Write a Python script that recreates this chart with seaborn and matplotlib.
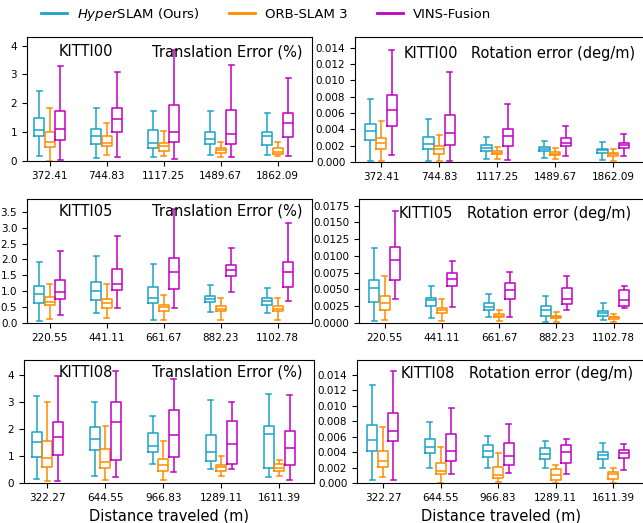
import pandas as pd
import matplotlib.pyplot as plt
import seaborn as sns
from matplotlib.lines import Line2D
from matplotlib.ticker import MultipleLocator

methods = ["HyperSLAM", "ORB-SLAM 3", "VINS-Fusion"]
legend_labels = [r"$\it{Hyper}$SLAM (Ours)", "ORB-SLAM 3", "VINS-Fusion"]
colors = ["#1aa3c6", "#ff8c00", "#c000c0"]

dist_00 = ["372.41", "744.83", "1117.25", "1489.67", "1862.09"]
dist_05 = ["220.55", "441.11", "661.67", "882.23", "1102.78"]
dist_08 = ["322.27", "644.55", "966.83", "1289.11", "1611.39"]

# each row: whisker low, q1, median, q3, whisker high
k00_trans_hyper = [[0.19, 0.85, 1.08, 1.48, 2.43], [0.09, 0.59, 0.85, 1.10, 1.83], [0.15, 0.44, 0.61, 1.06, 1.74],
                   [0.21, 0.58, 0.77, 1.02, 1.72], [0.21, 0.56, 0.87, 1.02, 1.68]]
k00_trans_orb = [[0.0, 0.50, 0.67, 1.02, 1.83], [0.21, 0.53, 0.64, 0.85, 1.33], [0.19, 0.36, 0.52, 0.61, 1.03],
                 [0.14, 0.27, 0.38, 0.44, 0.65], [0.17, 0.24, 0.32, 0.44, 0.67]]
k00_trans_vins = [[0.02, 0.73, 1.10, 1.75, 3.30], [0.13, 1.02, 1.45, 1.83, 3.07], [0.06, 0.65, 1.00, 1.95, 3.86],
                  [0.14, 0.58, 0.93, 1.77, 3.32], [0.19, 0.82, 1.31, 1.66, 2.88]]

k00_rot_hyper = [[0.0001, 0.00265, 0.00376, 0.00461, 0.00776], [0.0001, 0.00155, 0.00216, 0.00306, 0.0053],
                 [0.0004, 0.00135, 0.00176, 0.00204, 0.00306], [0.0005, 0.00135, 0.00163, 0.00184, 0.00257],
                 [0.0003, 0.00114, 0.00151, 0.00163, 0.00245]]
k00_rot_orb = [[0.0001, 0.00163, 0.00233, 0.00298, 0.0050], [0.0001, 0.0010, 0.00155, 0.00192, 0.00327],
               [0.0004, 0.00094, 0.00114, 0.00135, 0.00184], [0.0004, 0.00082, 0.00102, 0.00122, 0.00176],
               [0.0001, 0.00073, 0.00094, 0.00114, 0.00163]]
k00_rot_vins = [[0.0008, 0.0044, 0.0064, 0.00824, 0.01367], [0.0001, 0.00212, 0.0036, 0.00571, 0.0110],
                [0.0002, 0.00192, 0.00318, 0.0040, 0.00706], [0.00073, 0.00196, 0.00233, 0.00298, 0.0044],
                [0.0007, 0.00171, 0.00204, 0.00237, 0.00347]]

k05_trans_hyper = [[0.05, 0.63, 0.90, 1.16, 1.93], [0.30, 0.72, 1.00, 1.30, 2.12], [0.08, 0.63, 0.80, 1.12, 1.86],
                   [0.35, 0.67, 0.74, 0.86, 1.19], [0.30, 0.58, 0.70, 0.79, 1.11]]
k05_trans_orb = [[0.14, 0.56, 0.66, 0.82, 1.22], [0.16, 0.48, 0.64, 0.77, 1.22], [0.11, 0.37, 0.49, 0.56, 0.88],
                 [0.08, 0.38, 0.45, 0.53, 0.80], [0.11, 0.38, 0.45, 0.53, 0.79]]
k05_trans_vins = [[0.26, 0.75, 0.96, 1.35, 2.27], [0.48, 1.04, 1.22, 1.70, 2.73], [0.48, 1.06, 1.60, 2.04, 3.57],
                  [0.96, 1.49, 1.67, 1.83, 2.36], [0.70, 1.14, 1.60, 1.93, 3.15]]

k05_rot_hyper = [[0.00035, 0.00311, 0.00521, 0.00647, 0.01123], [0.00075, 0.00261, 0.00336, 0.00371, 0.00547],
                 [0.00095, 0.00201, 0.00246, 0.00301, 0.00436], [0.0002, 0.0011, 0.00201, 0.00251, 0.00401],
                 [0.00045, 0.0010, 0.00145, 0.00186, 0.00301]]
k05_rot_orb = [[0.00045, 0.00201, 0.00301, 0.00396, 0.00697], [0.00035, 0.00145, 0.00196, 0.00221, 0.00361],
               [0.00035, 0.00085, 0.0011, 0.00135, 0.00196], [0.0001, 0.00075, 0.00095, 0.0011, 0.0016],
               [0.0002, 0.0006, 0.00085, 0.00095, 0.00135]]
k05_rot_vins = [[0.00361, 0.00647, 0.00938, 0.01138, 0.01675], [0.00246, 0.00552, 0.00662, 0.00752, 0.00928],
                [0.00095, 0.00361, 0.00486, 0.00597, 0.00762], [0.00201, 0.00286, 0.00351, 0.00521, 0.00702],
                [0.00221, 0.00261, 0.00336, 0.00496, 0.00552]]

k08_trans_hyper = [[0.15, 0.98, 1.50, 1.87, 3.22], [0.27, 1.21, 1.62, 2.06, 2.98], [0.71, 1.13, 1.38, 1.85, 2.46],
                   [0.50, 0.81, 1.13, 1.77, 3.06], [0.23, 0.54, 1.83, 2.12, 3.31]]
k08_trans_orb = [[0.09, 0.59, 0.92, 1.54, 2.98], [0.10, 0.55, 0.78, 1.27, 2.12], [0.12, 0.43, 0.65, 0.90, 1.54],
                 [0.27, 0.46, 0.58, 0.68, 1.01], [0.27, 0.46, 0.55, 0.69, 0.84]]
k08_trans_vins = [[0.09, 1.02, 1.69, 2.24, 3.94], [0.22, 0.86, 2.24, 2.98, 4.15], [0.41, 0.95, 1.78, 2.71, 3.84],
                  [0.52, 0.71, 1.46, 2.28, 2.98], [0.11, 0.66, 1.28, 1.93, 3.25]]

k08_rot_hyper = [[0.00035, 0.00416, 0.00555, 0.0075, 0.0127], [0.0020, 0.00394, 0.00459, 0.00568, 0.00793],
                 [0.0020, 0.00338, 0.00412, 0.0049, 0.00611], [0.0020, 0.00316, 0.00381, 0.00446, 0.00546],
                 [0.0020, 0.00316, 0.0036, 0.00403, 0.0052]]
k08_rot_orb = [[0.00078, 0.00208, 0.00286, 0.00412, 0.0072], [0.00004, 0.00121, 0.00156, 0.0026, 0.00468],
               [0.00013, 0.00065, 0.0010, 0.00208, 0.00394], [0.00004, 0.00043, 0.0010, 0.00178, 0.00238],
               [0.00004, 0.00048, 0.00113, 0.00143, 0.00195]]
k08_rot_vins = [[0.00043, 0.00542, 0.00676, 0.0091, 0.01452], [0.00121, 0.00286, 0.00412, 0.00628, 0.00975],
                [0.0013, 0.00238, 0.00347, 0.00511, 0.00763], [0.00121, 0.0026, 0.00403, 0.0049, 0.00568],
                [0.00173, 0.00329, 0.0039, 0.00433, 0.00503]]


def to_long(dists, hyper, orb, vins):
    rows = []
    for name, stats in zip(methods, [hyper, orb, vins]):
        for d, five in zip(dists, stats):
            for v in five:
                rows.append({"dist": d, "method": name, "val": v})
    return pd.DataFrame(rows)


panels = [
    (dist_00, k00_trans_hyper, k00_trans_orb, k00_trans_vins, "KITTI00", "Translation Error (%)"),
    (dist_00, k00_rot_hyper, k00_rot_orb, k00_rot_vins, "KITTI00", "Rotation error (deg/m)"),
    (dist_05, k05_trans_hyper, k05_trans_orb, k05_trans_vins, "KITTI05", "Translation Error (%)"),
    (dist_05, k05_rot_hyper, k05_rot_orb, k05_rot_vins, "KITTI05", "Rotation error (deg/m)"),
    (dist_08, k08_trans_hyper, k08_trans_orb, k08_trans_vins, "KITTI08", "Translation Error (%)"),
    (dist_08, k08_rot_hyper, k08_rot_orb, k08_rot_vins, "KITTI08", "Rotation error (deg/m)"),
]

W, H = 643, 523
# axes boxes in pixels: left, top, right, bottom
boxes = [(27, 37, 312, 161), (355, 37, 645, 162),
         (27, 199, 312, 323), (359, 199, 645, 323),
         (24, 360, 314, 483), (357, 360, 645, 483)]
ylims = [4.3, 0.0153, 3.9, 0.0185, 4.55, 0.0159]
steps = [1, 0.002, 0.5, 0.0025, 1, 0.002]
text_pos = [(0.112, 0.44, 0.88), (0.166, 0.40, 0.87),
            (0.112, 0.44, 0.90), (0.14, 0.378, 0.88),
            (0.12, 0.44, 0.90), (0.153, 0.389, 0.89)]

fig, axes = plt.subplots(3, 2, figsize=(W / 100, H / 100), dpi=100)
axes = axes.flatten()

for i, ax in enumerate(axes):
    dists, hyper, orb, vins, seq, metric = panels[i]
    df = to_long(dists, hyper, orb, vins)
    sns.boxplot(data=df, x="dist", y="val", hue="method", order=dists, hue_order=methods,
                palette=colors, fill=False, whis=(0, 100), showfliers=False,
                width=0.55, gap=0.05, linewidth=1.1, legend=False, ax=ax)
    l, t, r, b = boxes[i]
    ax.set_position([l / W, 1 - b / H, (r - l) / W, (b - t) / H])
    ax.set_ylim(0, ylims[i])
    ax.yaxis.set_major_locator(MultipleLocator(steps[i]))
    if i % 2 == 0:
        ax.set_xlim(-0.4, 4.6)
    else:
        ax.set_xlim(-0.45, 4.55)
    ax.tick_params(labelsize=7.5)
    ax.set_ylabel("")
    ax.set_xlabel("Distance traveled (m)" if i >= 4 else "", fontsize=10.5)
    x1, x2, ty = text_pos[i]
    ax.text(x1, ty, seq, transform=ax.transAxes, fontsize=10.5, va="center")
    ax.text(x2, ty, metric, transform=ax.transAxes, fontsize=10.5, va="center")

handles = [Line2D([], [], color=c, lw=2) for c in colors]
fig.legend(handles, legend_labels, loc="center", bbox_to_anchor=(266 / W, 1 - 14 / H),
           ncol=3, frameon=False, fontsize=9.5, columnspacing=2.2, handletextpad=0.75)

plt.savefig("out.png", dpi=100)
